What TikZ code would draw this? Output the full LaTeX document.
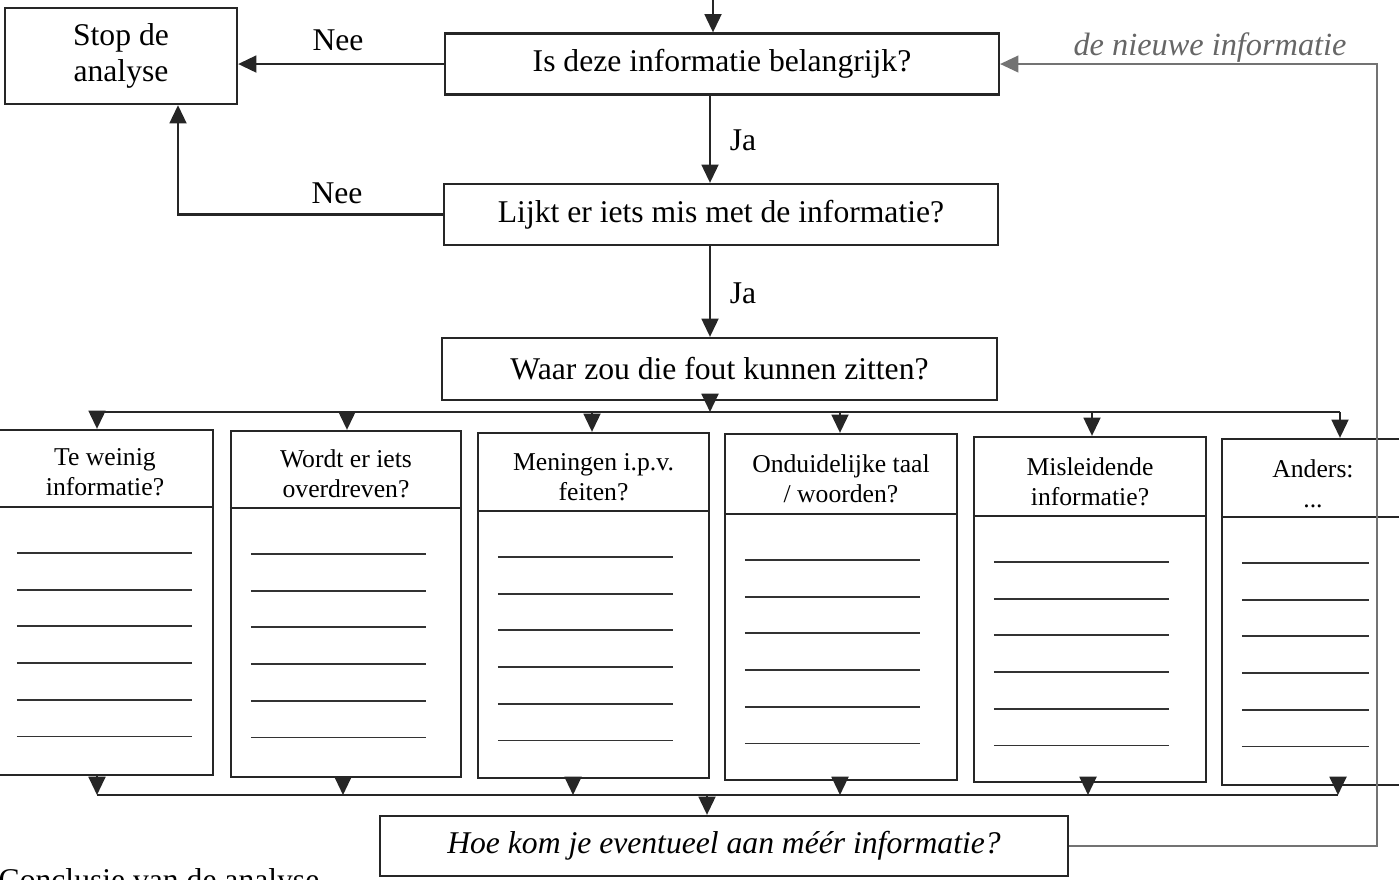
\documentclass[tikz,border=0pt]{standalone}
\usepackage{fontspec}
\setmainfont{Liberation Serif}
\usetikzlibrary{arrows.meta,positioning}
\tikzset{
  qbox/.style={draw=black!85, line width=0.65pt, inner sep=0pt, align=center, font=\fontsize{9}{10.3}\selectfont},
  colbox/.style={draw=black!85, line width=0.65pt, inner sep=0pt},
  collabel/.style={inner sep=0pt, align=center, font=\fontsize{7.3}{8.6}\selectfont},
  answer/.style={inner sep=0pt, font=\fontsize{9}{10.3}\selectfont},
  flow/.style={line width=0.65pt, draw=black!85, -{Triangle[length=5.2pt,width=4.8pt]}},
  backflow/.style={line width=0.4pt, draw=black!55, -{Triangle[length=5.2pt,width=4.8pt]}},
  bus/.style={line width=0.65pt, draw=black!85},
  ruling/.style={line width=0.55pt, draw=black!80},
}

\begin{document}
\begin{tikzpicture}
\useasboundingbox (0,0) rectangle (13.990,-8.790);
\clip (0,0) rectangle (13.990,-8.790);
% question boxes
\node[qbox, minimum width=2.320cm, minimum height=0.960cm] (stop) at (1.210,-0.560) {Stop de\\analyse};
\node[qbox, minimum width=5.540cm, minimum height=0.610cm] (q1) at (7.220,-0.640) {Is deze informatie belangrijk?};
\node[qbox, minimum width=5.540cm, minimum height=0.610cm] (q2) at (7.210,-2.145) {Lijkt er iets mis met de informatie?};
\node[qbox, minimum width=5.550cm, minimum height=0.620cm] (q3) at (7.195,-3.690) {Waar zou die fout kunnen zitten?};
\node[qbox, minimum width=6.880cm, minimum height=0.600cm, font=\fontsize{9}{10.3}\selectfont\itshape] (q4) at (7.240,-8.460) {Hoe kom je eventueel aan méér informatie?};
\node[answer] (nee1) at (3.380,-0.400) {Nee};
\node[answer] (nee2) at (3.370,-1.930) {Nee};
\node[answer] (ja1) at (7.430,-1.400) {Ja};
\node[answer] (ja2) at (7.430,-2.930) {Ja};
\node[inner sep=0pt, text=black!60, font=\fontsize{9.2}{11}\selectfont\itshape] (newinfo) at (12.100,-0.480) {de nieuwe informatie};
\node[answer, anchor=base west] (concl) at (-0.020,-8.900) {Conclusie van de analyse};
% columns
\node[colbox, minimum width=2.160cm, minimum height=3.450cm] (c1) at (1.050,-6.025) {};
\node[colbox, minimum width=2.300cm, minimum height=3.460cm] (c2) at (3.460,-6.040) {};
\node[colbox, minimum width=2.310cm, minimum height=3.450cm] (c3) at (5.935,-6.055) {};
\node[colbox, minimum width=2.320cm, minimum height=3.460cm] (c4) at (8.410,-6.070) {};
\node[colbox, minimum width=2.320cm, minimum height=3.450cm] (c5) at (10.900,-6.095) {};
\node[colbox, minimum width=1.820cm, minimum height=3.460cm] (c6) at (13.130,-6.120) {};
\node[collabel] (t1) at (1.050,-4.725) {Te weinig\\informatie?};
\node[collabel] (t2) at (3.460,-4.740) {Wordt er iets\\overdreven?};
\node[collabel] (t3) at (5.935,-4.770) {Meningen i.p.v.\\feiten?};
\node[collabel] (t4) at (8.410,-4.785) {Onduidelijke taal\\/ woorden?};
\node[collabel] (t5) at (10.900,-4.815) {Misleidende\\informatie?};
\node[collabel] (t6) at (13.130,-4.840) {Anders:\\...};
\foreach \n/\d/\len in {c1/5.070/1.750,c2/5.080/1.750,c3/5.110/1.750,c4/5.140/1.750,c5/5.160/1.750,c6/5.170/1.270}{
  \draw[colbox] (\n.west |- 0,-\d) -- (\n.east |- 0,-\d);
  \foreach \k in {0,...,5}{
    \pgfmathsetmacro\ry{-\d-0.460-0.367*\k}
    \draw[ruling] (\n.west |- 0,\ry) ++(0.210,0) -- ++(\len,0);
  }
}
% connectors
\coordinate (start) at (7.130,0);
\coordinate (sp) at (7.100,0);
\coordinate (bt1) at (0.970,-4.120);
\coordinate (bt2) at (3.470,-4.120);
\coordinate (bt3) at (5.920,-4.120);
\coordinate (bt4) at (8.400,-4.120);
\coordinate (bt5) at (10.920,-4.120);
\coordinate (bt6) at (13.400,-4.120);
\coordinate (bb0) at (7.070,-7.950);
\coordinate (bb1) at (0.970,-7.950);
\coordinate (bb2) at (3.430,-7.950);
\coordinate (bb3) at (5.730,-7.950);
\coordinate (bb4) at (8.400,-7.950);
\coordinate (bb5) at (10.880,-7.950);
\coordinate (bb6) at (13.380,-7.950);
\coordinate (fb) at (13.770,-8.460);
\draw[flow] (start) -- (start |- q1.north);
\draw[flow] (q1.west) -- (q1.west -| stop.east);
\draw[flow] (q1.south -| sp) -- (q2.north -| sp);
\draw[flow] (q2.west) -| ([xshift=0.570cm]stop.south);
\draw[flow] (q2.south -| sp) -- (q3.north -| sp);
\draw[flow] (q3.south -| sp) -- (sp |- bt1);
\draw[bus] (bt1) -- (bt6);
\draw[flow] (bt1) -- (bt1 |- c1.north);
\draw[flow] (bt2) -- (bt2 |- c2.north);
\draw[flow] (bt3) -- (bt3 |- c3.north);
\draw[flow] (bt4) -- (bt4 |- c4.north);
\draw[flow] (bt5) -- (bt5 |- c5.north);
\draw[flow] (bt6) -- (bt6 |- c6.north);
\draw[flow] (c1.south -| bb1) -- (bb1);
\draw[flow] (c2.south -| bb2) -- (bb2);
\draw[flow] (c3.south -| bb3) -- (bb3);
\draw[flow] (c4.south -| bb4) -- (bb4);
\draw[flow] (c5.south -| bb5) -- (bb5);
\draw[flow] (c6.south -| bb6) -- (bb6);
\draw[bus] (bb1) -- (bb6);
\draw[flow] (bb0) -- (bb0 |- q4.north);
\draw[backflow] (q4.east) -- (fb) -- (fb |- q1.east) -- (q1.east);
\end{tikzpicture}
\end{document}
